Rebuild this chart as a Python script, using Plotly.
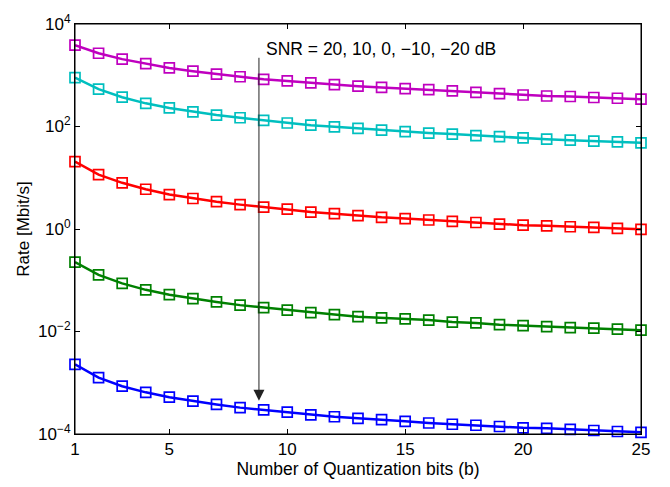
import plotly.graph_objects as go

bits = list(range(1, 26))

rate_snr20 = [3864, 2685, 2061, 1679, 1390, 1202, 1054, 935, 832, 776, 710, 659, 612,
              578, 546, 522, 495, 465, 439, 412, 394, 385, 368, 356, 341]
rate_snr10 = [896, 537, 373, 283, 230, 193, 167, 148, 132, 117, 106, 98.6, 91.6,
              85.1, 79.3, 74.5, 71.0, 66.5, 63.7, 59.8, 56.5, 54.1, 51.8, 50.2, 48.1]
rate_snr0 = [20.6, 11.5, 7.96, 5.96, 4.70, 3.94, 3.41, 2.99, 2.66, 2.44, 2.14, 1.99, 1.82,
             1.69, 1.60, 1.50, 1.41, 1.34, 1.245, 1.19, 1.155, 1.107, 1.077, 1.03, 0.986]
rate_snrm10 = [0.225, 0.127, 0.0869, 0.0650, 0.0522, 0.0439, 0.0378, 0.0327, 0.0293,
               0.0262, 0.0233, 0.0214, 0.0195, 0.0185, 0.0177, 0.0167, 0.0153, 0.0147,
               0.0136, 0.0130, 0.0124, 0.0119, 0.0116, 0.0111, 0.0106]
rate_snrm20 = [0.00228, 0.001256, 0.000857, 0.000650, 0.000522, 0.000439, 0.000378,
               0.000327, 0.000296, 0.000266, 0.000237, 0.000217, 0.000202, 0.000191,
               0.000177, 0.000164, 0.000155, 0.000148, 0.000140, 0.000132, 0.000129,
               0.000123, 0.000117, 0.000112, 0.000108]

series = [
    ("SNR = 20 dB", rate_snr20, "#BF00BF"),
    ("SNR = 10 dB", rate_snr10, "#00BFBF"),
    ("SNR = 0 dB", rate_snr0, "#FF0000"),
    ("SNR = -10 dB", rate_snrm10, "#008000"),
    ("SNR = -20 dB", rate_snrm20, "#0000FF"),
]

x_ticks = [1, 5, 10, 15, 20, 25]
y_tickvals = [1e-4, 1e-2, 1, 1e2, 1e4]
y_ticktext = ["10<sup>\u22124</sup>", "10<sup>\u22122</sup>", "10<sup>0</sup>",
              "10<sup>2</sup>", "10<sup>4</sup>"]

annot_text = "SNR = 20, 10, 0, \u221210, \u221220 dB"

fig = go.Figure()
for name, vals, col in series:
    fig.add_trace(go.Scatter(
        x=bits, y=vals, name=name, mode="lines+markers",
        line=dict(color=col, width=2.5),
        marker=dict(symbol="square-open", size=10, color=col, line=dict(width=1.7, color=col)),
        showlegend=False, cliponaxis=False,
    ))

font_family = "Liberation Sans, Arial, Helvetica, sans-serif"

fig.update_layout(
    width=670, height=487,
    margin=dict(l=75, r=29, t=19, b=48),
    paper_bgcolor="white", plot_bgcolor="white",
    font=dict(family=font_family, size=17, color="black"),
    xaxis=dict(
        range=[1, 25], tickvals=x_ticks, ticks="inside", ticklen=5, tickcolor="black",
        showline=True, linecolor="black", linewidth=1, mirror="ticks",
        showgrid=False, zeroline=False,
        title=dict(text="Number of Quantization bits (b)", standoff=3, font=dict(size=17.5)),
        tickfont=dict(size=17),
    ),
    yaxis=dict(
        type="log", range=[-4, 4], tickvals=y_tickvals, ticktext=y_ticktext,
        ticks="inside", ticklen=5, tickcolor="black",
        showline=True, linecolor="black", linewidth=1, mirror="ticks",
        showgrid=False, zeroline=False,
        title=dict(text="Rate [Mbit/s]", standoff=4, font=dict(size=17)),
        tickfont=dict(size=17),
    ),
)

# plot frame
fig.add_shape(type="rect", xref="paper", yref="paper", x0=0, y0=0, x1=1, y1=1,
              line=dict(color="black", width=1), fillcolor="rgba(0,0,0,0)", layer="above")

fig.add_annotation(
    x=8.8, y=-3.35, xref="x", yref="y",
    ax=8.8, ay=3.37, axref="x", ayref="y",
    text="", showarrow=True, arrowhead=2, arrowsize=2.2, arrowwidth=1,
    arrowcolor="#222222",
)
fig.add_annotation(
    x=9.03, y=3.52, xref="x", yref="y", xanchor="left", yanchor="middle",
    text=annot_text, showarrow=False, font=dict(size=17.5, color="black"),
)

fig.write_html(
    "out.html",
    config={"displayModeBar": False},
    post_script="document.body.style.margin='0';document.body.style.overflow='hidden';",
)
